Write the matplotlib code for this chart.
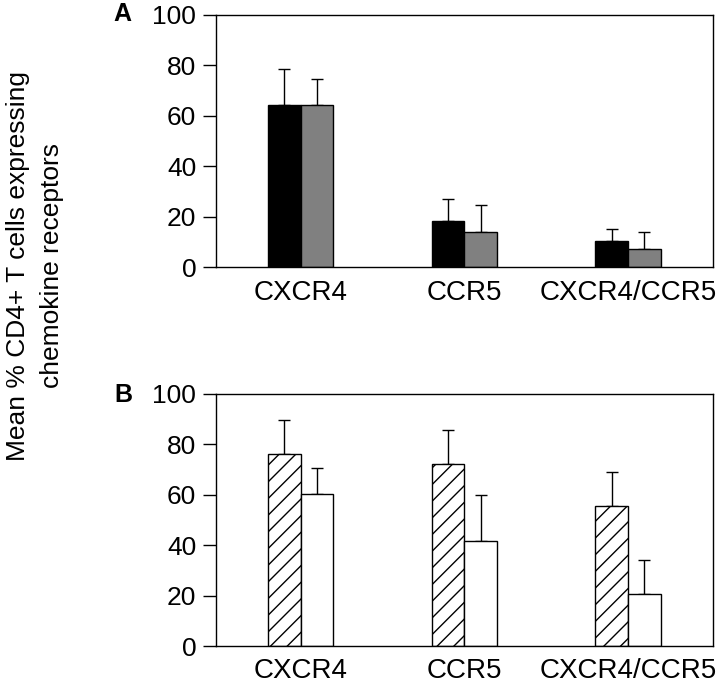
import matplotlib
matplotlib.use("Agg")
import matplotlib.pyplot as plt
import numpy as np

plt.rcParams['font.family'] = ['Liberation Sans', 'DejaVu Sans']
plt.rcParams['hatch.linewidth'] = 1.0

categories = ["CXCR4", "CCR5", "CXCR4/CCR5"]
yticks = [0, 20, 40, 60, 80, 100]

# Panel A
a_black = [64.2, 18.1, 10.2]
a_black_err = [14.2, 9.0, 4.9]
a_gray = [64.2, 13.8, 7.3]
a_gray_err = [10.4, 10.9, 6.5]

# Panel B
b_hatch = [76.0, 72.3, 55.4]
b_hatch_err = [13.5, 13.3, 13.7]
b_white = [60.1, 41.6, 20.6]
b_white_err = [10.3, 18.4, 13.4]

W, H = 720, 681
fig = plt.figure(figsize=(W / 100, H / 100), dpi=100)

axA = fig.add_axes([215.7 / W, (H - 267) / H, 497.3 / W, 252 / H])
axB = fig.add_axes([215.7 / W, (H - 646) / H, 497.3 / W, 252.3 / H])

x = np.arange(len(categories))
bw = 0.2


def draw(ax, v1, e1, s1, v2, e2, s2):
    ax.bar(x - bw / 2, v1, bw, edgecolor='black', linewidth=1.0, zorder=2, **s1)
    ax.bar(x + bw / 2, v2, bw, edgecolor='black', linewidth=1.0, zorder=2, **s2)
    for vals, errs, off in ((v1, e1, -bw / 2), (v2, e2, bw / 2)):
        ax.errorbar(x + off, vals, yerr=[np.zeros(len(errs)), errs], fmt='none',
                    ecolor='black', elinewidth=1.0, capsize=4, capthick=1.0, zorder=1)
    ax.set_xlim(-0.52, 2.52)
    ax.set_ylim(0, 100)
    ax.set_yticks(yticks)
    ax.set_yticklabels([str(t) for t in yticks], fontsize=19)
    ax.set_xticks(x)
    ax.set_xticklabels(categories, fontsize=20)
    ax.tick_params(axis='x', length=0, pad=9)
    ax.tick_params(axis='y', length=9.5, width=1.0, pad=4.5)
    for sp in ax.spines.values():
        sp.set_linewidth(1.0)


draw(axA, a_black, a_black_err, dict(color='black'),
     a_gray, a_gray_err, dict(color='#808080'))
draw(axB, b_hatch, b_hatch_err, dict(color='white', hatch='//'),
     b_white, b_white_err, dict(color='white'))

fig.text(122.5 / W, (H - 14) / H, "A", fontsize=18, fontweight='bold', ha='center', va='center')
fig.text(123.5 / W, (H - 395) / H, "B", fontsize=18, fontweight='bold', ha='center', va='center')

fig.text(35 / W, (H - 266) / H, "Mean % CD4+ T cells expressing\nchemokine receptors",
         rotation=90, fontsize=19, ha='center', va='center', multialignment='center',
         linespacing=1.55)

fig.savefig("out.png", dpi=100)
